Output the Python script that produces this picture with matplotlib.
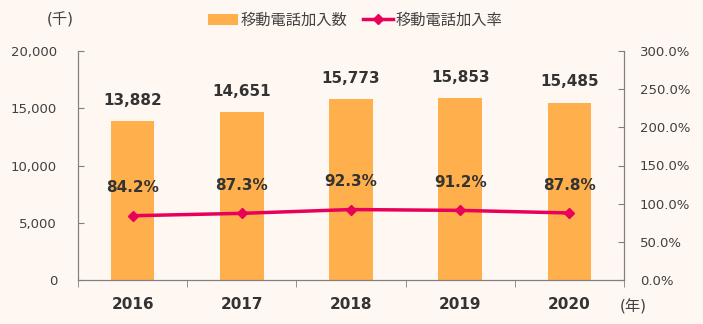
import matplotlib.pyplot as plt
import numpy as np

plt.rcParams['font.family'] = ['DejaVu Sans', 'Noto Sans CJK JP']

years = ['2016', '2017', '2018', '2019', '2020']
subscribers = [13882, 14651, 15773, 15853, 15485]   # 千
rates = [84.2, 87.3, 92.3, 91.2, 87.8]               # %

bg = '#FFF7F2'
bar_color = '#FFB04C'
line_color = '#E8005A'
text_color = '#333333'
axis_color = '#808080'

fig = plt.figure(figsize=(7.03, 3.24), dpi=100, facecolor=bg)
ax = fig.add_axes([78 / 703, 1 - 280 / 324, 546 / 703, 229 / 324])
ax.set_facecolor(bg)
ax2 = ax.twinx()

x = np.arange(len(years))
bars = ax.bar(x, subscribers, width=0.4, color=bar_color, zorder=2, label='移動電話加入数')
line, = ax2.plot(x, rates, color=line_color, lw=2.5, marker='D', ms=5.5, zorder=3, label='移動電話加入率')

ax.set_xlim(-0.5, 4.5)
ax.set_ylim(0, 20000)
ax2.set_ylim(0, 300)
ax.set_yticks(range(0, 20001, 5000))
ax.set_yticklabels([f'{v:,}' for v in range(0, 20001, 5000)])
ax2.set_yticks(range(0, 301, 50))
ax2.set_yticklabels([f'{v:.1f}%' for v in range(0, 301, 50)])

ax.set_xticks(x)
ax.set_xticklabels(years, fontsize=11, fontweight='bold', color=text_color)
ax.set_xticks(np.arange(-0.5, 5, 1), minor=True)
ax.tick_params(axis='x', which='major', length=0, pad=12)
ax.tick_params(axis='x', which='minor', length=5, color=axis_color, direction='out')
ax.tick_params(axis='y', direction='in', length=4, color=axis_color, labelsize=9.5,
               labelcolor='#404040', pad=15)
ax2.tick_params(axis='y', direction='in', length=4, color=axis_color, labelsize=9.5,
                labelcolor='#404040', pad=11.5)

for a in (ax, ax2):
    a.spines['top'].set_visible(False)
    for s in ('left', 'right', 'bottom'):
        a.spines[s].set_color(axis_color)

for xi, v in zip(x, subscribers):
    ax.annotate(f'{v:,}', (xi, v), xytext=(0, 15), textcoords='offset points',
                ha='center', va='center', fontsize=11, fontweight='bold', color=text_color)
for xi, r in zip(x, rates):
    ax2.annotate(f'{r:.1f}%', (xi, r), xytext=(0, 20), textcoords='offset points',
                 ha='center', va='center', fontsize=11, fontweight='bold', color=text_color)

fig.text(60 / 703, 1 - 20 / 324, '(千)', ha='center', va='center', fontsize=11, color='#404040')
fig.text(633 / 703, 1 - 307 / 324, '(年)', ha='center', va='center', fontsize=11, color='#404040')

fig.legend(handles=[bars, line], loc='center', bbox_to_anchor=(355 / 703, 1 - 20 / 324),
           ncol=2, frameon=False, fontsize=11, handlelength=2.0, handletextpad=0.15,
           columnspacing=1.0, labelcolor='#404040')

fig.savefig('out.png', dpi=100, facecolor=bg)
